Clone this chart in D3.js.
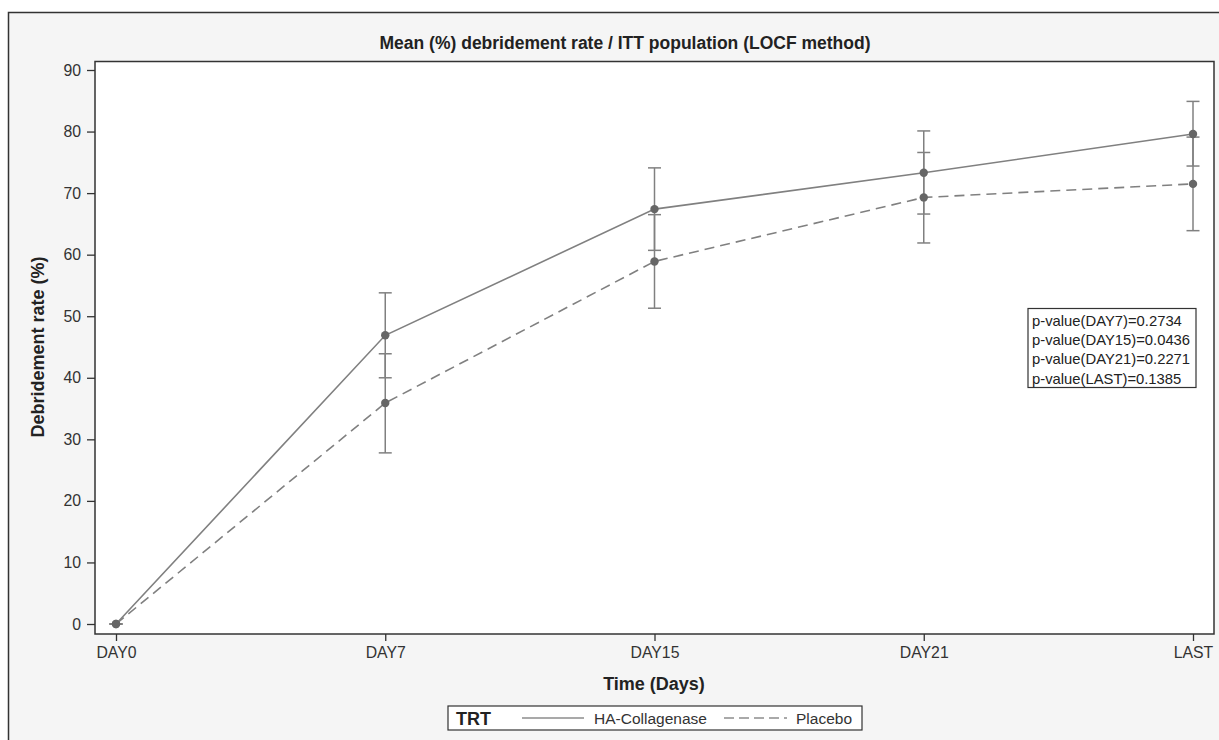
<!DOCTYPE html>
<html>
<head>
<meta charset="utf-8">
<script src="https://cdn.jsdelivr.net/npm/d3@7"></script>
<style>
  body { margin: 0; background: #fff; }
  svg { display: block; font-family: "Liberation Sans", Arial, sans-serif; }
</style>
</head>
<body>
<svg width="1219" height="740"></svg>
<script>
// Data
const days = ["DAY0", "DAY7", "DAY15", "DAY21", "LAST"];
const haMean = [0, 46.9, 67.4, 73.3, 79.6];
const haLower = [0, 40.0, 60.7, 66.6, 74.4];
const haUpper = [0, 53.8, 74.1, 80.1, 84.9];
const plMean = [0, 35.9, 58.9, 69.3, 71.5];
const plLower = [0, 27.8, 51.3, 61.9, 63.9];
const plUpper = [0, 43.9, 66.5, 76.6, 79.1];
const yTicks = [0, 10, 20, 30, 40, 50, 60, 70, 80, 90];
const pValues = ["p-value(DAY7)=0.2734", "p-value(DAY15)=0.0436", "p-value(DAY21)=0.2271", "p-value(LAST)=0.1385"];
const seriesNames = ["HA-Collagenase", "Placebo"];

const svg = d3.select("svg");

// Frame background
svg.append("rect")
    .attr("x", 8.5).attr("y", 12.5)
    .attr("width", 1230).attr("height", 740)
    .attr("fill", "#f5f5f5")
    .attr("stroke", "#333").attr("stroke-width", 1.5);

// Plot area
const plot = { left: 95, top: 61.5, right: 1214, bottom: 634 };
svg.append("rect")
    .attr("x", plot.left).attr("y", plot.top)
    .attr("width", plot.right - plot.left).attr("height", plot.bottom - plot.top)
    .attr("fill", "#fff");

const xScale = d3.scalePoint().domain(days).range([116, 1193]);
const yScale = d3.scaleLinear().domain([0, 90]).range([624, 70]);

// Axes
const xAxis = svg.append("g")
    .attr("transform", `translate(0, ${plot.bottom})`)
    .call(d3.axisBottom(xScale).tickSize(7).tickPadding(6));
const yAxis = svg.append("g")
    .attr("transform", `translate(${plot.left}, 0)`)
    .call(d3.axisLeft(yScale).tickValues(yTicks).tickSize(8).tickPadding(6));
[xAxis, yAxis].forEach(a => {
    a.select(".domain").remove();
    a.selectAll("line").attr("stroke", "#333").attr("stroke-width", 1.3);
    a.selectAll("text").attr("font-size", 15.8).attr("fill", "#333")
        .attr("font-family", "'Liberation Sans', Arial, sans-serif");
});

// Plot border
svg.append("rect")
    .attr("x", plot.left).attr("y", plot.top)
    .attr("width", plot.right - plot.left).attr("height", plot.bottom - plot.top)
    .attr("fill", "none").attr("stroke", "#333").attr("stroke-width", 1.5);

// Error bars
function errorBars(lower, upper) {
    const g = svg.append("g").attr("stroke", "#808080").attr("stroke-width", 1.5);
    days.forEach((d, i) => {
        const x = xScale(d);
        g.append("line").attr("x1", x).attr("x2", x)
            .attr("y1", yScale(lower[i])).attr("y2", yScale(upper[i]));
        [lower[i], upper[i]].forEach(v => {
            g.append("line").attr("x1", x - 6.5).attr("x2", x + 6.5)
                .attr("y1", yScale(v)).attr("y2", yScale(v));
        });
    });
}
errorBars(haLower, haUpper);
errorBars(plLower, plUpper);

// Lines
const line = d3.line().x((d, i) => xScale(days[i])).y(d => yScale(d));
svg.append("path").datum(haMean).attr("d", line)
    .attr("fill", "none").attr("stroke", "#808080").attr("stroke-width", 1.6);
svg.append("path").datum(plMean).attr("d", line)
    .attr("fill", "none").attr("stroke", "#808080").attr("stroke-width", 1.6)
    .attr("stroke-dasharray", "10,6");

// Markers
[haMean, plMean].forEach(s => {
    svg.append("g").selectAll("circle").data(s).join("circle")
        .attr("cx", (d, i) => xScale(days[i]))
        .attr("cy", d => yScale(d))
        .attr("r", 4.2)
        .attr("fill", "#666");
});

// Title and axis labels
svg.append("text")
    .attr("x", 625).attr("y", 49)
    .attr("text-anchor", "middle")
    .attr("font-size", 17.5).attr("font-weight", "bold").attr("fill", "#222")
    .text("Mean (%) debridement rate / ITT population (LOCF method)");

svg.append("text")
    .attr("x", 654).attr("y", 690)
    .attr("text-anchor", "middle")
    .attr("font-size", 18).attr("font-weight", "bold").attr("fill", "#222")
    .text("Time (Days)");

svg.append("text")
    .attr("transform", "translate(44, 347) rotate(-90)")
    .attr("text-anchor", "middle")
    .attr("font-size", 18).attr("font-weight", "bold").attr("fill", "#222")
    .text("Debridement rate (%)");

// p-value box
svg.append("rect")
    .attr("x", 1028).attr("y", 308.5)
    .attr("width", 168).attr("height", 79)
    .attr("fill", "#fff").attr("stroke", "#333").attr("stroke-width", 1.2);
svg.append("g").selectAll("text").data(pValues).join("text")
    .attr("x", 1032)
    .attr("y", (d, i) => 326 + i * 19.2)
    .attr("font-size", 14.8).attr("fill", "#222")
    .text(d => d);

// Legend
const leg = svg.append("g");
leg.append("rect")
    .attr("x", 448).attr("y", 706)
    .attr("width", 414).attr("height", 24)
    .attr("fill", "#fff").attr("stroke", "#333").attr("stroke-width", 1.2);
leg.append("text")
    .attr("x", 456).attr("y", 725)
    .attr("font-size", 18).attr("font-weight", "bold").attr("fill", "#222")
    .text("TRT");
leg.append("line")
    .attr("x1", 522).attr("x2", 584).attr("y1", 718).attr("y2", 718)
    .attr("stroke", "#555").attr("stroke-width", 1.2);
leg.append("text")
    .attr("x", 594).attr("y", 724)
    .attr("font-size", 15.5).attr("fill", "#333")
    .text(seriesNames[0]);
leg.append("line")
    .attr("x1", 724).attr("x2", 787).attr("y1", 718).attr("y2", 718)
    .attr("stroke", "#555").attr("stroke-width", 1.2)
    .attr("stroke-dasharray", "10,5");
leg.append("text")
    .attr("x", 796).attr("y", 724)
    .attr("font-size", 15.5).attr("fill", "#333")
    .text(seriesNames[1]);
</script>
</body>
</html>
